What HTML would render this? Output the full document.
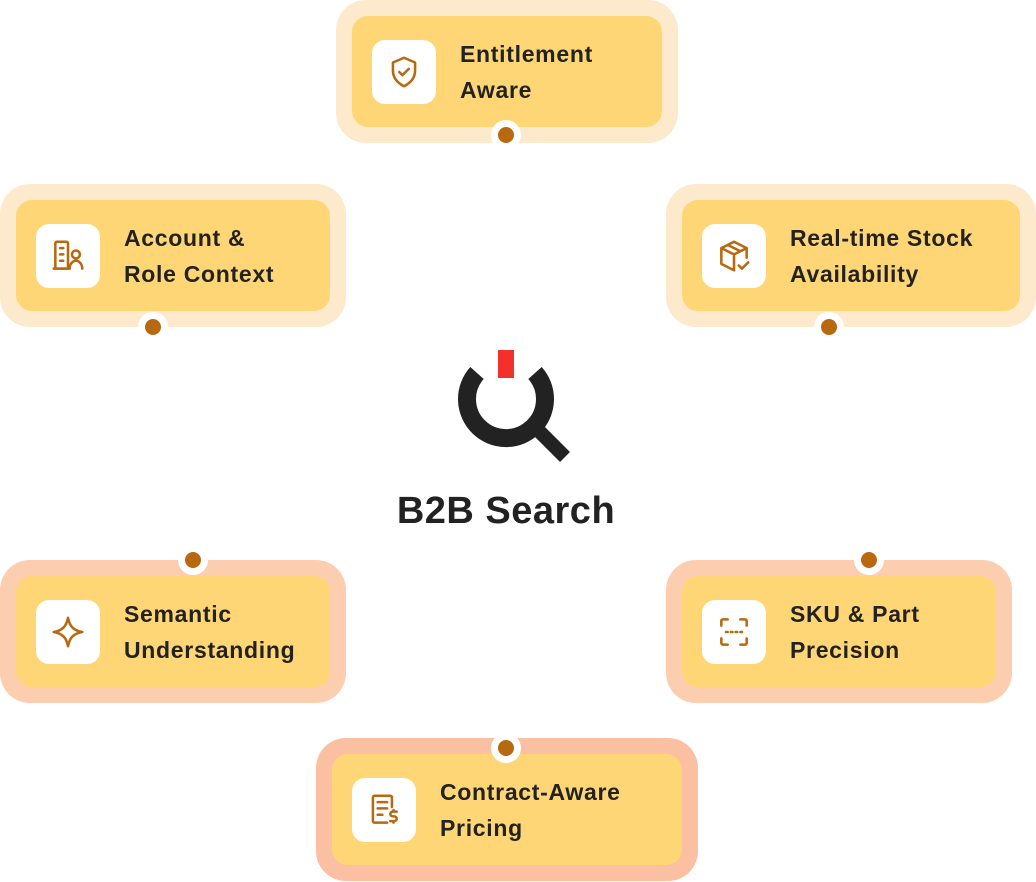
<!DOCTYPE html>
<html><head><meta charset="utf-8"><style>
body{margin:0;width:1036px;height:882px;background:#fff;position:relative;overflow:hidden;font-family:"Liberation Sans",sans-serif}
.o{position:absolute;height:143px;border-radius:30px}
.i{position:absolute;left:16px;right:16px;top:16px;bottom:16px;background:#ffd675;border-radius:16px}
.ic{position:absolute;left:20px;top:24px;width:64px;height:64px;background:#fff;border-radius:13px;display:flex;align-items:center;justify-content:center}
.t{position:absolute;left:108px;top:20px;font-size:23px;font-weight:bold;line-height:36px;color:#222;letter-spacing:0.7px;white-space:nowrap}
.d{position:absolute;width:16px;height:16px;border-radius:50%;background:#b8680f;border:7px solid #fff;margin:-15px 0 0 -15px}
.top{background:#fdeacc}.bot{background:#fdcdb0}.sal{background:#fbc0a2}
svg.g{width:38px;height:38px;fill:none;stroke:#b8680f;stroke-width:1.6;stroke-linecap:round;stroke-linejoin:round}
</style></head><body>

<div class="o top" style="left:336px;top:0;width:342px"><div class="i"><div class="ic"><svg class="g" viewBox="0 0 24 24"><path d="M12 3l7 3v5c0 5-3 8-7 10-4-2-7-5-7-10V6z"/><path d="M9 12l2 2 4-4"/></svg></div><div class="t">Entitlement<br>Aware</div></div></div>

<div class="o top" style="left:0;top:184px;width:346px"><div class="i"><div class="ic"><svg class="g" viewBox="0 0 24 24"><rect x="4" y="3" width="8" height="17" rx="1"/><path d="M7 7h2M7 11h2M7 15h2M3 20h10"/><circle cx="17" cy="11" r="2.5"/><path d="M13 20c0-3 2-5 4-5s4 2 4 5"/></svg></div><div class="t">Account &amp;<br>Role Context</div></div></div>

<div class="o top" style="left:666px;top:184px;width:370px"><div class="i"><div class="ic"><svg class="g" viewBox="0 0 24 24"><path d="M12 3l8 4v6M12 3L4 7v10l8 4M4 7l8 4 8-4M12 11v10M8 5l8 4"/><path d="M15 18l2 2 4-4"/></svg></div><div class="t">Real-time Stock<br>Availability</div></div></div>

<div class="o bot" style="left:0;top:560px;width:346px"><div class="i"><div class="ic"><svg class="g" viewBox="0 0 24 24"><path d="M12 3c1 5 3 8 9 9-6 1-8 4-9 9-1-5-3-8-9-9 6-1 8-4 9-9z"/></svg></div><div class="t">Semantic<br>Understanding</div></div></div>

<div class="o bot" style="left:666px;top:560px;width:346px"><div class="i"><div class="ic"><svg class="g" viewBox="0 0 24 24"><path d="M4 8V5a1 1 0 011-1h3M16 4h3a1 1 0 011 1v3M20 16v3a1 1 0 01-1 1h-3M8 20H5a1 1 0 01-1-1v-3"/><path d="M7 12h10" stroke-dasharray="1 2"/></svg></div><div class="t">SKU &amp; Part<br>Precision</div></div></div>

<div class="o sal" style="left:316px;top:738px;width:382px"><div class="i"><div class="ic"><svg class="g" viewBox="0 0 24 24"><path d="M14 20H6a1 1 0 01-1-1V4a1 1 0 011-1h10a1 1 0 011 1v6"/><path d="M8 7h6M8 11h6M8 15h3"/><path d="M20 13h-2.5a1.5 1.5 0 000 3h1a1.5 1.5 0 010 3H16M18 12v1M18 19v1"/></svg></div><div class="t">Contract-Aware<br>Pricing</div></div></div>

<div class="d" style="left:506px;top:135px"></div>
<div class="d" style="left:153px;top:327px"></div>
<div class="d" style="left:829px;top:327px"></div>
<div class="d" style="left:193px;top:560px"></div>
<div class="d" style="left:869px;top:560px"></div>
<div class="d" style="left:506px;top:748px"></div>

<svg style="position:absolute;left:0;top:0" width="1036" height="882">
<path d="M477 373 A39 39 0 1 0 535 373" fill="none" stroke="#222" stroke-width="18"/>
<line x1="535" y1="427" x2="565" y2="457" stroke="#222" stroke-width="14"/>
<rect x="498" y="350" width="16" height="28" fill="#f4302b"/>
</svg>
<div style="position:absolute;left:0;width:1012px;top:490px;text-align:center;font-size:38px;font-weight:bold;color:#222;letter-spacing:0.5px">B2B Search</div>
</body></html>
